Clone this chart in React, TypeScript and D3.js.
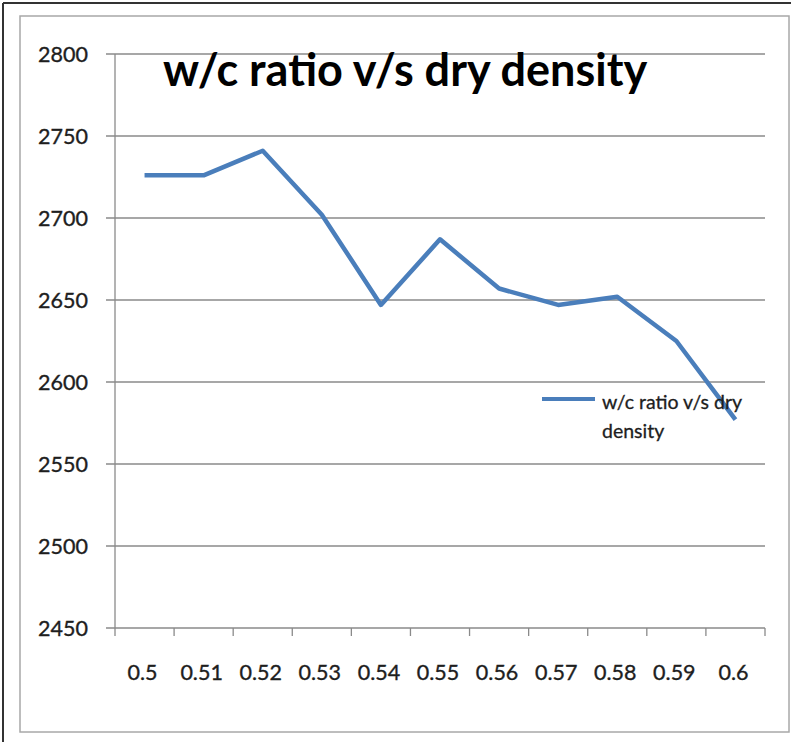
import * as d3 from "d3";

const categories = ["0.5", "0.51", "0.52", "0.53", "0.54", "0.55", "0.56", "0.57", "0.58", "0.59", "0.6"];
const density = [2726, 2726, 2741, 2702, 2647, 2687, 2657, 2647, 2652, 2625, 2577];
const yTicks = [2450, 2500, 2550, 2600, 2650, 2700, 2750, 2800];

const seriesName = "w/c ratio v/s dry density";
const title = "w/c ratio v/s dry density";

const WIDTH = 791;
const HEIGHT = 742;
const PLOT = { left: 115, right: 765, top: 54, bottom: 628 };
const FONT = "Lato, 'Open Sans', sans-serif";
const lineColor = "#4a7ebb";
const axisColor = "#8a8a8a";
const textColor = "#1e1e1e";

export default function App() {
  const xScale = d3.scaleBand().domain(categories).range([PLOT.left, PLOT.right]);
  const yScale = d3.scaleLinear().domain([2450, 2800]).range([PLOT.bottom, PLOT.top]);

  const line = d3
    .line<number>()
    .x((_, i) => (xScale(categories[i]) ?? 0) + xScale.bandwidth() / 2)
    .y((d) => yScale(d));

  // tick marks sit on band edges
  const xTickPos = categories.map((c) => xScale(c) ?? 0).concat([PLOT.right]);

  return (
    <svg
      width={WIDTH}
      height={HEIGHT}
      style={{ position: "absolute", left: 0, top: 0, background: "#fff" }}
    >
      {/* outer frame */}
      <line x1={3} x2={3} y1={3} y2={HEIGHT} stroke="#333" strokeWidth={2} />
      <line x1={3} x2={WIDTH} y1={3} y2={3} stroke="#333" strokeWidth={2} />
      <rect x={20} y={16} width={769} height={716} fill="none" stroke="#a8a8a8" strokeWidth={1.5} />

      {/* gridlines + y labels */}
      {yTicks.map((t) => (
        <g key={t}>
          <line
            x1={PLOT.left - 9}
            x2={PLOT.right}
            y1={yScale(t)}
            y2={yScale(t)}
            stroke={axisColor}
            strokeWidth={1.3}
          />
          <text
            x={88}
            y={yScale(t)}
            dy="0.36em"
            textAnchor="end"
            fontFamily={FONT}
            fontSize={21.5}
            fill={textColor}
            stroke={textColor}
            strokeWidth={0.35}
          >
            {t}
          </text>
        </g>
      ))}

      {/* axes */}
      <line x1={PLOT.left} x2={PLOT.left} y1={PLOT.top} y2={PLOT.bottom} stroke={axisColor} strokeWidth={1.3} />
      {xTickPos.map((x, i) => (
        <line key={i} x1={x} x2={x} y1={PLOT.bottom} y2={PLOT.bottom + 8} stroke={axisColor} strokeWidth={1.3} />
      ))}
      {categories.map((c) => (
        <text
          key={c}
          x={(xScale(c) ?? 0) + xScale.bandwidth() / 2 - 2}
          y={680}
          textAnchor="middle"
          fontFamily={FONT}
          fontSize={21.5}
          fill={textColor}
          stroke={textColor}
          strokeWidth={0.35}
        >
          {c}
        </text>
      ))}

      {/* series */}
      <path
        d={line(density) || undefined}
        fill="none"
        stroke={lineColor}
        strokeWidth={4.5}
        strokeLinejoin="round"
      />

      {/* legend */}
      <line x1={542} x2={595} y1={399} y2={399} stroke={lineColor} strokeWidth={4} />
      <text x={602} y={409} fontFamily={FONT} fontSize={19.5} fill={textColor} stroke={textColor} strokeWidth={0.3}>
        {seriesName.split(" density")[0]}
      </text>
      <text x={602} y={438} fontFamily={FONT} fontSize={19.5} fill={textColor} stroke={textColor} strokeWidth={0.3}>
        density
      </text>

      {/* title */}
      <text
        x={405}
        y={86}
        textAnchor="middle"
        fontFamily={FONT}
        fontWeight="bold"
        fontSize={45}
        fill="#000"
      >
        {title}
      </text>
    </svg>
  );
}
